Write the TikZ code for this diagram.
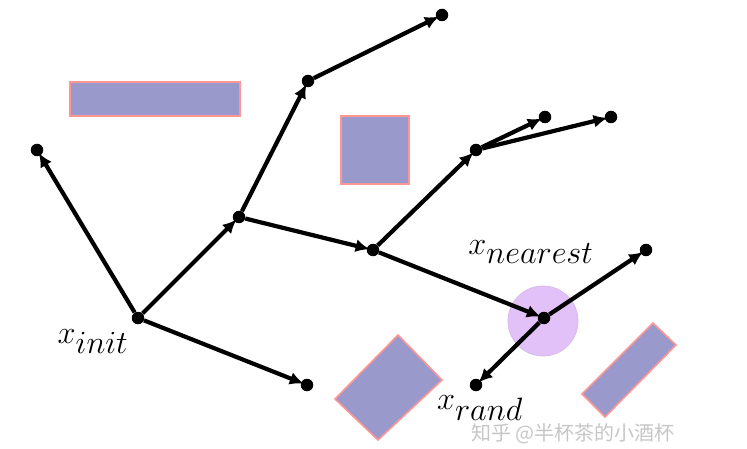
\documentclass[tikz,border=0pt]{standalone}
\usepackage{fontspec}
\newfontfamily\cjkfont{Noto Sans CJK SC}
\usetikzlibrary{arrows.meta}
\definecolor{obsfill}{RGB}{153,153,204}
\definecolor{obsline}{RGB}{255,150,150}
\definecolor{ballfill}{RGB}{226,192,248}
\definecolor{ballline}{RGB}{216,186,236}
\newcommand{\biglab}[1]{\scalebox{1.3}{\fontsize{40}{48}\selectfont$#1$}}
\tikzset{
  dot/.style={circle,fill=black,inner sep=0pt,minimum size=12.5pt},
  edge/.style={line width=4.2pt,-{Latex[length=14pt,width=13pt]},shorten >=-3pt},
  obstacle/.style={fill=obsfill,draw=obsline,line width=1.6pt},
  lab/.style={inner sep=0pt},
  wm/.style={font=\cjkfont\fontsize{20}{24}\selectfont,text=gray!45}
}
\begin{document}
\begin{tikzpicture}[x=1pt,y=-1pt]
\useasboundingbox (0,0) rectangle (747,449);
% obstacles
\draw[obstacle] (70,82) rectangle (240,116);
\draw[obstacle] (341,116) rectangle (409,184);
\draw[obstacle] (398,335) -- (442,380) -- (378,440) -- (335,399) -- cycle;
\draw[obstacle] (653,323) -- (676,345) -- (605,417) -- (582,394) -- cycle;
% neighbourhood ball
\draw[fill=ballfill,draw=ballline,line width=0.8pt] (543,321) circle (35);
% tree vertices
\node[dot] (init) at (138,318) {};
\node[dot] (a) at (37,150) {};
\node[dot] (b) at (239,217) {};
\node[dot] (c) at (308,81) {};
\node[dot] (d) at (442,15) {};
\node[dot] (e) at (373,250) {};
\node[dot] (f) at (476,150) {};
\node[dot] (g) at (545,117) {};
\node[dot] (h) at (611,117) {};
\node[dot] (near) at (544,318) {};
\node[dot] (i) at (646,250) {};
\node[dot] (rand) at (476,385) {};
\node[dot] (j) at (307,385) {};
% edges
\draw[edge] (init) -- (a);
\draw[edge] (init) -- (b);
\draw[edge] (init) -- (j);
\draw[edge] (b) -- (c);
\draw[edge] (c) -- (d);
\draw[edge] (b) -- (e);
\draw[edge] (e) -- (f);
\draw[edge] (f) -- (g);
\draw[edge] (f) -- (h);
\draw[edge] (e) -- (near);
\draw[edge] (near) -- (i);
\draw[edge] (near) -- (rand);
% labels
\node[lab] (linit) at (93,342) {\biglab{x_{init}}};
\node[lab] (lnear) at (531,252) {\biglab{x_{nearest}}};
\node[lab] (lrand) at (480,408) {\biglab{x_{rand}}};
\node[wm] (wmark) at (573,434) {知乎 @半杯茶的小酒杯};
\end{tikzpicture}
\end{document}
